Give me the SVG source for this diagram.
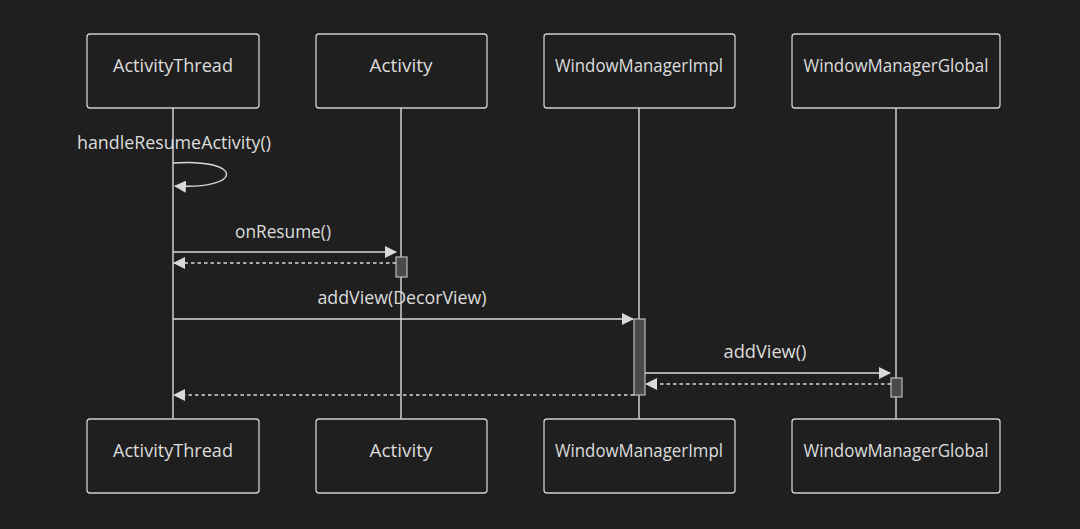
<svg xmlns="http://www.w3.org/2000/svg" width="1080" height="529" viewBox="0 0 1080 529">
  <defs>
    <style>
      .actor rect { fill: #1f1f1f; stroke: #cfcfcf; stroke-width: 1.3; }
      .actor text, .label { fill: #dcdcdc; font-family: "Open Sans", "Noto Sans", "DejaVu Sans", sans-serif; font-size: 18px; text-anchor: middle; dominant-baseline: central; }
      .life { stroke: #cfcfcf; stroke-width: 1.5; }
      .msg { stroke: #d9d9d9; stroke-width: 1.5; fill: none; }
      .ret { stroke: #d9d9d9; stroke-width: 1.5; fill: none; stroke-dasharray: 3.5 3; }
      .act { fill: #4a4a4a; stroke: #bdbdbd; stroke-width: 1.2; }
    </style>
    <marker id="arrow" viewBox="0 0 12 12" refX="11" refY="6" markerWidth="12" markerHeight="12" markerUnits="userSpaceOnUse" orient="auto">
      <path d="M0,0 L12,6 L0,12 Z" fill="#d9d9d9"/>
    </marker>
  </defs>
  <rect width="1080" height="529" fill="#1f1f1f"/>

  <!-- lifelines -->
  <g id="lifelines">
    <line class="life" x1="173" y1="108" x2="173" y2="419"/>
    <line class="life" x1="401" y1="108" x2="401" y2="419"/>
    <line class="life" x1="639" y1="108" x2="639" y2="419"/>
    <line class="life" x1="896" y1="108" x2="896" y2="419"/>
  </g>

  <!-- participants, top -->
  <g id="activitythread-top" class="actor"><rect x="87" y="34" width="172" height="74" rx="3"/><text x="173" y="65" textLength="120" lengthAdjust="spacingAndGlyphs">ActivityThread</text></g>
  <g id="activity-top" class="actor"><rect x="316" y="34" width="171" height="74" rx="3"/><text x="401" y="65" textLength="63" lengthAdjust="spacingAndGlyphs">Activity</text></g>
  <g id="wmimpl-top" class="actor"><rect x="544" y="34" width="191" height="74" rx="3"/><text x="639" y="65" textLength="168" lengthAdjust="spacingAndGlyphs">WindowManagerImpl</text></g>
  <g id="wmglobal-top" class="actor"><rect x="792" y="34" width="208" height="74" rx="3"/><text x="896" y="65" textLength="185" lengthAdjust="spacingAndGlyphs">WindowManagerGlobal</text></g>

  <!-- participants, bottom -->
  <g id="activitythread-bottom" class="actor"><rect x="87" y="419" width="172" height="74" rx="3"/><text x="173" y="450" textLength="120" lengthAdjust="spacingAndGlyphs">ActivityThread</text></g>
  <g id="activity-bottom" class="actor"><rect x="316" y="419" width="171" height="74" rx="3"/><text x="401" y="450" textLength="63" lengthAdjust="spacingAndGlyphs">Activity</text></g>
  <g id="wmimpl-bottom" class="actor"><rect x="544" y="419" width="191" height="74" rx="3"/><text x="639" y="450" textLength="168" lengthAdjust="spacingAndGlyphs">WindowManagerImpl</text></g>
  <g id="wmglobal-bottom" class="actor"><rect x="792" y="419" width="208" height="74" rx="3"/><text x="896" y="450" textLength="185" lengthAdjust="spacingAndGlyphs">WindowManagerGlobal</text></g>

  <!-- activations -->
  <g id="activations">
    <rect class="act" x="396" y="257" width="11" height="20"/>
    <rect class="act" x="634" y="319" width="11" height="76"/>
    <rect class="act" x="891" y="378" width="11" height="19"/>
  </g>

  <!-- messages -->
  <g id="connectors">
    <path class="msg" d="M173,163 C244,158 244,190 175,186" marker-end="url(#arrow)"/>
    <line class="msg" x1="173" y1="252" x2="396" y2="252" marker-end="url(#arrow)"/>
    <line class="ret" x1="396" y1="263" x2="174" y2="263" marker-end="url(#arrow)"/>
    <line class="msg" x1="173" y1="319" x2="633" y2="319" marker-end="url(#arrow)"/>
    <line class="msg" x1="645" y1="373" x2="890" y2="373" marker-end="url(#arrow)"/>
    <line class="ret" x1="891" y1="384" x2="646" y2="384" marker-end="url(#arrow)"/>
    <line class="ret" x1="634" y1="395" x2="174" y2="395" marker-end="url(#arrow)"/>
  </g>

  <!-- message labels -->
  <g id="labels">
    <text class="label" x="174" y="142" textLength="194" lengthAdjust="spacingAndGlyphs">handleResumeActivity()</text>
    <text class="label" x="283" y="231" textLength="96" lengthAdjust="spacingAndGlyphs">onResume()</text>
    <text class="label" x="402" y="297" textLength="169" lengthAdjust="spacingAndGlyphs">addView(DecorView)</text>
    <text class="label" x="765" y="351" textLength="83" lengthAdjust="spacingAndGlyphs">addView()</text>
  </g>
</svg>
